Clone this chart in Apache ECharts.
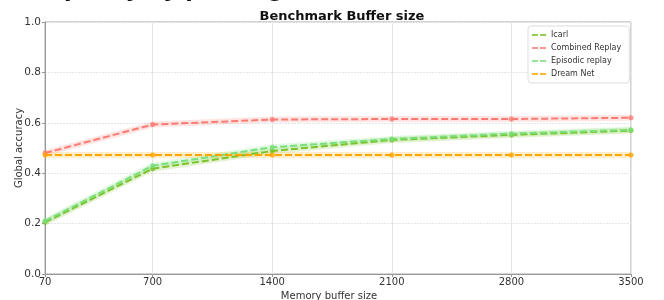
<!DOCTYPE html>
<html><head><meta charset="utf-8">
<script src="https://cdn.jsdelivr.net/npm/echarts@6/dist/echarts.min.js"></script>
<style>html,body{margin:0;padding:0;background:#fff}#c{width:664px;height:300px}</style>
</head><body><div id="c"></div>
<script>
const bufferSizes = [70, 700, 1400, 2100, 2800, 3500];
const icarl = [0.205, 0.418, 0.488, 0.532, 0.552, 0.569];
const combinedReplay = [0.480, 0.593, 0.613, 0.615, 0.615, 0.620];
const episodicReplay = [0.210, 0.430, 0.503, 0.536, 0.557, 0.572];
const dreamNet = [0.472, 0.472, 0.472, 0.472, 0.472, 0.472];
const seriesNames = ['Icarl', 'Combined Replay', 'Episodic replay', 'Dream Net'];
const seriesColors = ['#7cc22a', '#fb7b72', '#78e07a', '#ffa500'];
const seriesValues = [icarl, combinedReplay, episodicReplay, dreamNet];

const font = 'DejaVu Sans';
const chart = echarts.init(document.getElementById('c'), null, {renderer: 'canvas'});
const pts = v => bufferSizes.map((x, i) => [x, v[i]]);
const dashIcon = 'path://M0,0H6V2H0Z M8,0H14V2H8Z';

const series = [];
seriesValues.forEach((v, k) => {
  series.push({
    name: seriesNames[k] + ' band', type: 'line', data: pts(v), silent: true,
    showSymbol: false, z: 1,
    lineStyle: {color: seriesColors[k], width: 6, opacity: 0.2}
  });
});
seriesValues.forEach((v, k) => {
  series.push({
    name: seriesNames[k], type: 'line', data: pts(v), z: 3,
    symbol: 'circle', symbolSize: 5,
    itemStyle: {color: seriesColors[k], opacity: 0.8},
    lineStyle: {color: seriesColors[k], width: 2, type: [7, 3]}
  });
});

chart.setOption({
  animation: false,
  textStyle: {fontFamily: font},
  title: {
    text: 'Benchmark Buffer size', left: 337, top: 5, textAlign: 'center',
    textStyle: {fontFamily: font, fontSize: 13, fontWeight: 'bold', color: '#111'}
  },
  graphic: [{
    type: 'text', left: 36, top: -20,
    style: {text: 'capacity by plotting', font: 'bold 22px "DejaVu Sans"', fill: '#111'}
  }],
  legend: {
    data: seriesNames.map((n, k) => ({name: n, icon: dashIcon, itemStyle: {color: seriesColors[k]}})),
    orient: 'vertical', left: 528, top: 26, width: 100,
    itemWidth: 14, itemHeight: 2, itemGap: 5,
    padding: [5, 8, 5, 4],
    backgroundColor: '#fff', borderColor: '#dddddd', borderWidth: 1, borderRadius: 3,
    textStyle: {fontFamily: font, fontSize: 8, color: '#333'}
  },
  grid: {left: 45, right: 33, top: 22, bottom: 26, outerBoundsMode: 'none', containLabel: false,
         show: true, borderColor: '#aaaaaa', borderWidth: 1},
  xAxis: {
    type: 'value', min: 70, max: 3500,
    name: 'Memory buffer size', nameLocation: 'middle', nameGap: 17, nameMoveOverlap: false,
    nameTextStyle: {fontFamily: font, fontSize: 10, color: '#333', padding: [0, 18, 0, 0]},
    axisLine: {lineStyle: {color: '#999'}},
    axisTick: {show: true, length: 3, customValues: bufferSizes, lineStyle: {color: '#999'}},
    axisLabel: {customValues: bufferSizes, formatter: v => String(v), fontSize: 10, color: '#333', margin: 3, fontFamily: font},
    splitLine: {show: true, lineStyle: {color: '#e6e6e6', width: 1}}
  },
  yAxis: {
    type: 'value', min: 0, max: 1, interval: 0.2,
    name: 'Global accuracy', nameLocation: 'middle', nameGap: 21, nameMoveOverlap: false,
    nameTextStyle: {fontFamily: font, fontSize: 10, color: '#333'},
    axisLine: {show: true, lineStyle: {color: '#999'}},
    axisTick: {show: true, length: 3, lineStyle: {color: '#999'}},
    axisLabel: {formatter: v => v.toFixed(1), fontSize: 10.5, color: '#333', margin: 4, fontFamily: font},
    splitLine: {show: true, lineStyle: {color: '#e6e6e6', width: 1, type: [2, 1]}}
  },
  series: series
});
</script></body></html>
